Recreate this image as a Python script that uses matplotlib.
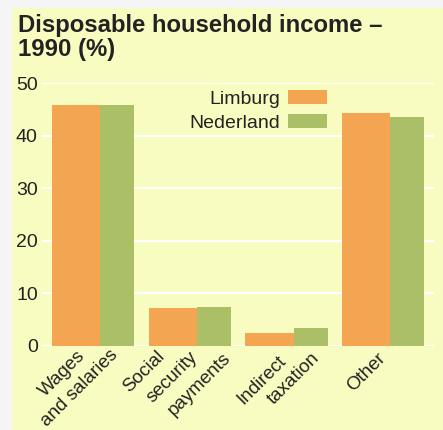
import matplotlib
matplotlib.use("Agg")
import matplotlib.pyplot as plt
import matplotlib.patches as mpatches
import numpy as np

categories = ["Wages\nand salaries", "Social\nsecurity\npayments", "Indirect\ntaxation", "Other"]
limburg = [45.8, 7.2, 2.5, 44.3]
nederland = [45.8, 7.4, 3.4, 43.5]
series_names = ["Limburg", "Nederland"]
yticks = [0, 10, 20, 30, 40, 50]

# layout of the hand-set, rotated category labels: per line (dx, dy) in pixels
# from the group centre at the zero line (dy measured downwards)
label_layout = [
    [(-31, 28), (-14, 42)],
    [(-46, 25.5), (-17.5, 31.5), (10, 38.5)],
    [(-25, 34), (7, 33)],
    [(-16.5, 26.5)],
]

ORANGE = "#f3a551"
GREEN = "#aabf66"
BG = "#f9fcc0"
TXT = "#222222"

plt.rcParams['font.family'] = ['Liberation Sans', 'DejaVu Sans']

fig = plt.figure(figsize=(4.43, 4.30), dpi=100)
fig.patch.set_facecolor("#f4f5f4")
bgax = fig.add_axes([12/443, 0, 1 - 12/443, 1 - 8/430], zorder=-10)
bgax.set_axis_off()
bgax.add_patch(mpatches.Rectangle((0, 0), 1, 1, transform=bgax.transAxes, facecolor=BG, edgecolor='none'))

ax = fig.add_axes([42/443, (430-346)/430, (434-42)/443, (346-83)/430])
ax.set_facecolor('none')
x = np.arange(len(categories))
ax.bar(x, limburg, width=0.5, align='edge', color=ORANGE, label=series_names[0], zorder=3)
ax.bar(x + 0.5, nederland, width=0.35, align='edge', color=GREEN, label=series_names[1], zorder=3)

ax.set_xlim(-0.103, 3.95)
ax.set_ylim(0, 50)
ax.set_yticks(yticks)
for t in yticks:
    ax.axhline(t, color='white', lw=1.5, zorder=1)
ax.tick_params(axis='y', length=0, pad=3, labelsize=14, labelcolor=TXT)
ax.tick_params(axis='x', length=0)
centers = x + 0.425
ax.set_xticks(centers)
ax.set_xticklabels([""] * len(categories))
for s in ax.spines.values():
    s.set_visible(False)

for cx, lab, lay in zip(centers, categories, label_layout):
    for line, (dx, dy) in zip(lab.split("\n"), lay):
        ax.annotate(line, xy=(cx, 0), xycoords='data', xytext=(dx, -dy),
                    textcoords='offset pixels', rotation=45, rotation_mode='anchor',
                    ha='center', va='center', fontsize=13.5, color=TXT,
                    annotation_clip=False)

leg = ax.legend(loc='upper right', bbox_to_anchor=(0.727, 0.973), frameon=False, markerfirst=False,
                fontsize=14, handlelength=2.0, handleheight=0.75, handletextpad=0.4,
                labelspacing=0.3, borderpad=0, borderaxespad=0, labelcolor=TXT)

fig.text(18/443, 1 - 14/430, "Disposable household income –\n1990 (%)", ha='left', va='top',
         fontsize=17.2, fontweight='bold', color=TXT, linespacing=1.08)

fig.savefig("out.png", dpi=100, facecolor=fig.get_facecolor())
